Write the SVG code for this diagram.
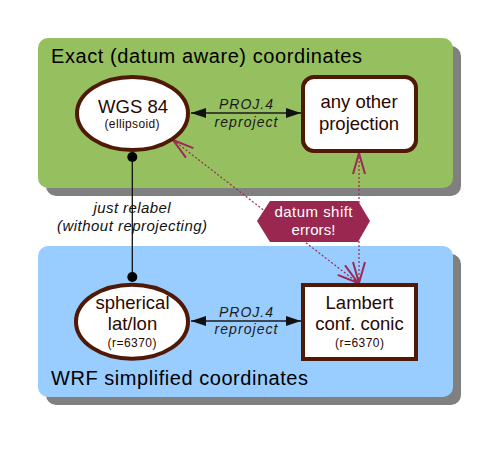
<svg xmlns="http://www.w3.org/2000/svg" width="491" height="454" viewBox="0 0 491 454">
<style>
  text { font-family: "Liberation Sans", Arial, sans-serif; }
  .shadow { fill: #808080; }
  .title { font-size: 20px; fill: #000; }
  .node { fill: #fff; stroke: #501905; stroke-width: 4; }
  .ntext { font-size: 18.5px; fill: #2a0800; text-anchor: middle; }
  .nsmall { font-size: 12px; fill: #2a0800; text-anchor: middle; }
  .elabel { font-size: 14px; font-style: italic; fill: #1a1a1a; text-anchor: middle; }
  .rlabel { font-size: 15px; font-style: italic; fill: #111; text-anchor: middle; }
  .proj { stroke: #1a1a1a; stroke-width: 1.5; fill: none; }
  .err { stroke: #9b2a55; stroke-width: 1.2; stroke-dasharray: 2 2; fill: none; }
  .hex { fill: #9a2750; }
  .htext { font-size: 15px; fill: #fff; text-anchor: middle; }
</style>
<defs>
  <marker id="fillArrow" viewBox="0 0 15 10" refX="15" refY="5" markerWidth="15" markerHeight="10" markerUnits="userSpaceOnUse" orient="auto-start-reverse">
    <path d="M0,0 L15,5 L0,10 z" fill="#111"/>
  </marker>
  <marker id="openArrow" viewBox="-2 -2 25 16" refX="21" refY="6" markerWidth="25" markerHeight="16" markerUnits="userSpaceOnUse" orient="auto-start-reverse">
    <path d="M0,0 L21,6 L0,12" fill="none" stroke="#9b2a55" stroke-width="2"/>
  </marker>
</defs>

<g id="panel-exact">
  <rect class="shadow" x="46" y="46" width="415" height="150" rx="10"/>
  <rect x="38" y="38" width="415" height="150" rx="10" fill="#96bf5f"/>
  <text class="title" x="51" y="63" textLength="311" lengthAdjust="spacing">Exact (datum aware) coordinates</text>
</g>

<g id="panel-wrf">
  <rect class="shadow" x="46" y="254" width="415" height="151" rx="10"/>
  <rect x="38" y="246" width="415" height="151" rx="10" fill="#99ccff"/>
  <text class="title" x="51" y="385" textLength="257" lengthAdjust="spacing">WRF simplified coordinates</text>
</g>

<g id="connectors">
  <line class="proj" x1="191" y1="113" x2="301" y2="113" marker-start="url(#fillArrow)" marker-end="url(#fillArrow)"/>
  <text class="elabel" x="246" y="109" textLength="54" lengthAdjust="spacing">PROJ.4</text>
  <text class="elabel" x="246" y="127" textLength="63" lengthAdjust="spacing">reproject</text>

  <line class="proj" x1="191" y1="321" x2="301" y2="321" marker-start="url(#fillArrow)" marker-end="url(#fillArrow)"/>
  <text class="elabel" x="246" y="317" textLength="54" lengthAdjust="spacing">PROJ.4</text>
  <text class="elabel" x="246" y="334" textLength="63" lengthAdjust="spacing">reproject</text>

  <line x1="132.3" y1="157" x2="132.3" y2="277" stroke="#111" stroke-width="1.3"/>
  <circle cx="132.3" cy="157" r="5" fill="#000"/>
  <circle cx="132.3" cy="277" r="5" fill="#000"/>
  <text class="rlabel" x="132" y="213" textLength="77" lengthAdjust="spacing">just relabel</text>
  <text class="rlabel" x="132" y="231" textLength="150" lengthAdjust="spacing">(without reprojecting)</text>

  <line class="err" x1="173" y1="140" x2="358" y2="283" marker-start="url(#openArrow)" marker-end="url(#openArrow)"/>
  <line class="err" x1="359" y1="153" x2="359" y2="283" marker-start="url(#openArrow)" marker-end="url(#openArrow)"/>

  <g id="datum-shift-label">
    <polygon class="hex" points="257,221 270,201 358,201 370,221 358,242 270,242"/>
    <text class="htext" x="313.5" y="217" textLength="78" lengthAdjust="spacing">datum shift</text>
    <text class="htext" x="313.5" y="235" textLength="44" lengthAdjust="spacing">errors!</text>
  </g>
</g>

<g id="node-wgs84">
  <ellipse class="node" cx="132.5" cy="113.5" rx="55.5" ry="36.5"/>
  <text class="ntext" x="133" y="113" textLength="70" lengthAdjust="spacing">WGS 84</text>
  <text class="nsmall" x="132" y="128" textLength="55" lengthAdjust="spacing">(ellipsoid)</text>
</g>

<g id="node-other">
  <rect class="node" x="303" y="77" width="113" height="74" rx="11"/>
  <text class="ntext" x="359" y="108">any other</text>
  <text class="ntext" x="359" y="130">projection</text>
</g>

<g id="node-spherical">
  <ellipse class="node" cx="132" cy="321.7" rx="56" ry="37"/>
  <text class="ntext" x="132.5" y="309">spherical</text>
  <text class="ntext" x="132.5" y="330">lat/lon</text>
  <text class="nsmall" x="132" y="347" textLength="49" lengthAdjust="spacing">(r=6370)</text>
</g>

<g id="node-lambert">
  <rect class="node" x="303" y="285" width="113" height="74"/>
  <text class="ntext" x="359.5" y="309">Lambert</text>
  <text class="ntext" x="359.5" y="330">conf. conic</text>
  <text class="nsmall" x="359.5" y="347" textLength="49" lengthAdjust="spacing">(r=6370)</text>
</g>
</svg>
